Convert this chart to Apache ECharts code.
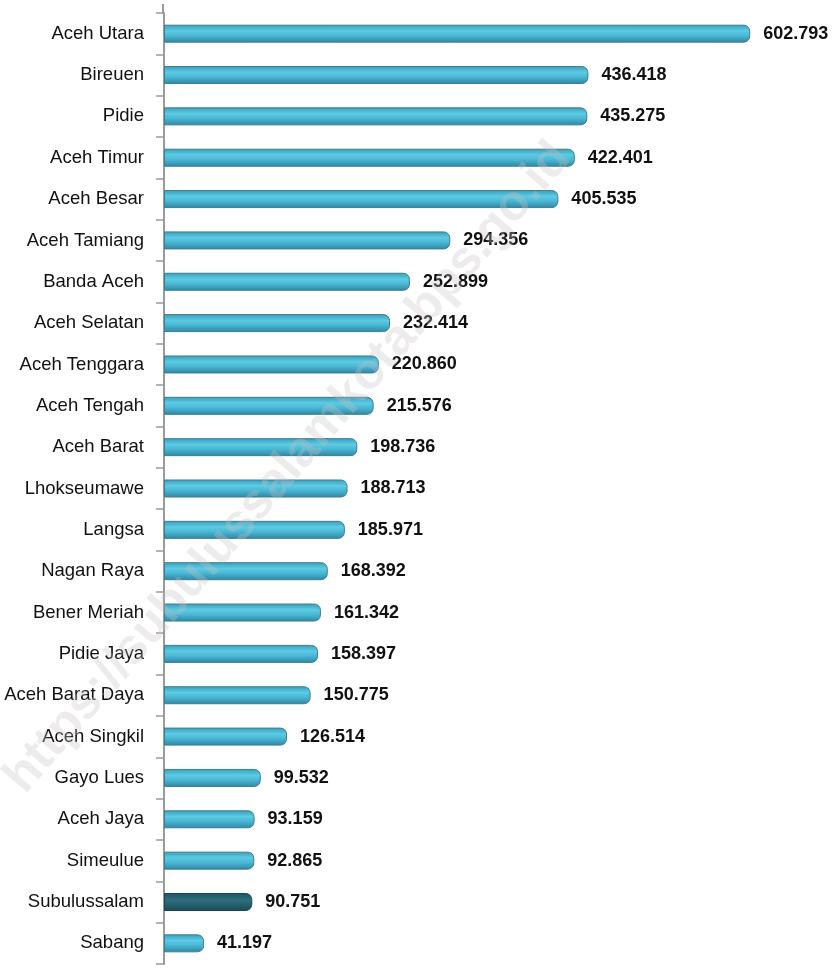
<!DOCTYPE html>
<html>
<head>
<meta charset="utf-8">
<script src="https://cdn.jsdelivr.net/npm/echarts@6/dist/echarts.min.js"></script>
<style>html,body{margin:0;padding:0;background:#fff}#c{width:835px;height:968px}</style>
</head>
<body>
<div id="c"></div>
<script>
const categories = ["Aceh Utara","Bireuen","Pidie","Aceh Timur","Aceh Besar","Aceh Tamiang","Banda Aceh","Aceh Selatan","Aceh Tenggara","Aceh Tengah","Aceh Barat","Lhokseumawe","Langsa","Nagan Raya","Bener Meriah","Pidie Jaya","Aceh Barat Daya","Aceh Singkil","Gayo Lues","Aceh Jaya","Simeulue","Subulussalam","Sabang"];
const values = [602.793,436.418,435.275,422.401,405.535,294.356,252.899,232.414,220.860,215.576,198.736,188.713,185.971,168.392,161.342,158.397,150.775,126.514,99.532,93.159,92.865,90.751,41.197];
const highlight = "Subulussalam";
const watermark = "https://subulussalamkota.bps.go.id";

const lightBar = new echarts.graphic.LinearGradient(0,0,0,1,[
  {offset:0,color:'#3a9cba'},{offset:0.35,color:'#5ccbe3'},{offset:0.6,color:'#4bb8d6'},{offset:1,color:'#2f86a3'}]);
const darkBar = new echarts.graphic.LinearGradient(0,0,0,1,[
  {offset:0,color:'#1f5565'},{offset:0.4,color:'#2e6f80'},{offset:1,color:'#1b4a58'}]);

const fmt = v => v.toFixed(3);

const chart = echarts.init(document.getElementById('c'), null, {renderer:'canvas'});
chart.setOption({
  animation:false,
  grid:{left:164, top:13, width:673, height:951, containLabel:false},
  xAxis:{type:'value', min:0, max:690, show:false},
  yAxis:{type:'category', data:categories, inverse:true,
    axisLine:{show:true, lineStyle:{color:'#9a9a9a', width:2}},
    axisTick:{show:true, length:8, lineStyle:{color:'#9a9a9a', width:1.5}},
    axisLabel:{color:'#111', fontSize:18.5, fontFamily:'Liberation Sans, Arial, sans-serif', margin:20}
  },
  graphic:[
    {type:'line', shape:{x1:163, y1:4, x2:163, y2:14}, style:{stroke:'#9a9a9a', lineWidth:2}},
    {type:'text', x:288, y:468, rotation:49.3*Math.PI/180, z:100,
      style:{text:watermark, font:'bold 50px Liberation Sans, Arial, sans-serif', fill:'rgba(200,192,194,0.32)', textAlign:'center', textVerticalAlign:'middle'}}
  ],
  series:[{
    type:'bar', barWidth:18,
    data: values.map((v,i)=>({value:v, itemStyle:{color: categories[i]===highlight ? darkBar : lightBar, borderColor: categories[i]===highlight ? '#1a4350' : '#3a7f92'}})),
    itemStyle:{borderWidth:1, borderRadius:[0,6,6,0]},
    label:{show:true, position:'right', distance:13, formatter:p=>fmt(p.value), color:'#111', fontWeight:'bold', fontSize:18, fontFamily:'Liberation Sans, Arial, sans-serif'}
  }]
});
</script>
</body>
</html>
